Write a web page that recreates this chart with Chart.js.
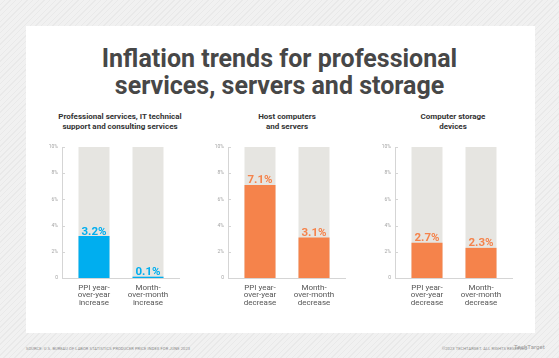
<!DOCTYPE html>
<html>
<head>
<meta charset="utf-8">
<script src="https://cdn.jsdelivr.net/npm/chart.js@4.4.0/dist/chart.umd.min.js"></script>
<style>
    html, body {
        margin: 0;
        padding: 0;
    }
    body {
        width: 559px;
        height: 358px;
        position: relative;
        overflow: hidden;
        background: #f1f1f1 repeating-linear-gradient(135deg, #f1f1f1 0px, #f1f1f1 3px, #e9e9e9 3px, #e9e9e9 4px);
        font-family: "Roboto", "Liberation Sans", sans-serif;
    }
    .card {
        position: absolute;
        left: 26px;
        top: 26px;
        width: 509px;
        height: 307px;
        background: #fff;
    }
    .title {
        position: absolute;
        left: 0;
        top: 45px;
        width: 559px;
        text-align: center;
        font-family: "Liberation Sans Narrow", "Roboto", sans-serif;
        font-weight: bold;
        font-size: 25px;
        line-height: 27px;
        color: #474747;
    }
    .sub {
        position: absolute;
        width: 170px;
        text-align: center;
        font-weight: bold;
        font-size: 8px;
        line-height: 10px;
        color: #333;
    }
    .panel {
        position: absolute;
        top: 135px;
        width: 143px;
        height: 175px;
    }
    .foot {
        position: absolute;
        top: 346px;
        font-size: 4px;
        color: #888;
        letter-spacing: 0.1px;
    }
</style>
</head>
<body>
<div class="card"></div>
<div class="title">Inflation trends for professional<br>services, servers and storage</div>

<div class="sub" style="left:35px; top:112px;">Professional services, IT technical<br>support and consulting services</div>
<div class="sub" style="left:202px; top:112px;">Host computers<br>and servers</div>
<div class="sub" style="left:368px; top:112px;">Computer storage<br>devices</div>

<div class="panel" style="left:40px;"><canvas id="chart-pro"></canvas></div>
<div class="panel" style="left:206px;"><canvas id="chart-host"></canvas></div>
<div class="panel" style="left:373px;"><canvas id="chart-storage"></canvas></div>

<div class="foot" style="left:26px;">SOURCE: U.S. BUREAU OF LABOR STATISTICS PRODUCER PRICE INDEX FOR JUNE 2023</div>
<div class="foot" style="left:442px;">©2023 TECHTARGET. ALL RIGHTS RESERVED</div>
<div class="foot" style="left:514px; top:343px; font-size:6px; color:#999;">TechTarget</div>

<script>
// Data
const proLabels = [['PPI year-', 'over-year', 'increase'], ['Month-', 'over-month', 'increase']];
const proValues = [3.2, 0.1];

const hostLabels = [['PPI year-', 'over-year', 'decrease'], ['Month-', 'over-month', 'decrease']];
const hostValues = [7.1, 3.1];

const storageLabels = [['PPI year-', 'over-year', 'decrease'], ['Month-', 'over-month', 'decrease']];
const storageValues = [2.7, 2.3];

const scaleMax = 10;
const tickValues = [0, 2, 4, 6, 8, 10];

const BLUE = '#00aeef';
const ORANGE = '#f5834b';
const TRACK = '#e6e5e1';
const AXIS = '#d5d5d5';

// Axis lines sit a few pixels outside the plot area, like the reference
const axisLines = {
    id: 'axisLines',
    beforeDatasetsDraw(chart) {
        const { ctx, chartArea } = chart;
        const y = chart.scales.y;
        const left = chartArea.left - 5;
        ctx.save();
        ctx.strokeStyle = AXIS;
        ctx.lineWidth = 1;
        ctx.beginPath();
        ctx.moveTo(left + 0.5, chartArea.top);
        ctx.lineTo(left + 0.5, chartArea.bottom + 0.5);
        ctx.lineTo(chartArea.right + 5, chartArea.bottom + 0.5);
        tickValues.forEach(v => {
            const py = Math.round(y.getPixelForValue(v)) + 0.5;
            ctx.moveTo(left, py);
            ctx.lineTo(left + 3, py);
        });
        ctx.stroke();
        ctx.restore();
    }
};

// Draws the value above each coloured bar
const valueLabels = {
    id: 'valueLabels',
    afterDatasetsDraw(chart) {
        const ctx = chart.ctx;
        const meta = chart.getDatasetMeta(1);
        const ds = chart.data.datasets[1];
        ctx.save();
        ctx.font = 'bold 11.5px "Roboto", sans-serif';
        ctx.textAlign = 'center';
        ctx.textBaseline = 'alphabetic';
        ctx.fillStyle = ds.backgroundColor;
        meta.data.forEach((bar, i) => {
            ctx.fillText(ds.data[i].toFixed(1) + '%', bar.x, bar.y - 1.5);
        });
        ctx.restore();
    }
};

function makeChart(id, labels, values, color) {
    const ctx = document.getElementById(id).getContext('2d');
    return new Chart(ctx, {
        type: 'bar',
        data: {
            labels: labels,
            datasets: [
                {
                    data: labels.map(() => scaleMax),
                    backgroundColor: TRACK,
                    grouped: false,
                    order: 2,
                    barPercentage: 0.574,
                    categoryPercentage: 1
                },
                {
                    data: values,
                    backgroundColor: color,
                    grouped: false,
                    order: 1,
                    barPercentage: 0.574,
                    categoryPercentage: 1
                }
            ]
        },
        options: {
            responsive: true,
            maintainAspectRatio: false,
            animation: false,
            events: [],
            layout: {
                padding: { top: 10, right: 8, left: 0, bottom: 0 }
            },
            plugins: {
                legend: { display: false },
                tooltip: { enabled: false }
            },
            scales: {
                x: {
                    grid: {
                        display: false,
                        drawTicks: false
                    },
                    border: { display: false },
                    ticks: {
                        color: '#555',
                        font: { size: 8, family: 'Roboto', lineHeight: 0.95 },
                        padding: 6,
                        maxRotation: 0
                    },
                    afterFit(scale) { scale.height = 32; }
                },
                y: {
                    min: 0,
                    max: scaleMax,
                    afterBuildTicks(scale) {
                        scale.ticks = tickValues.map(v => ({ value: v }));
                    },
                    grid: {
                        display: false,
                        drawTicks: false
                    },
                    border: { display: false },
                    ticks: {
                        color: '#a5a5a5',
                        font: { size: 5, family: 'Roboto' },
                        padding: 9,
                        callback: v => v === 0 ? '0' : v + '%'
                    },
                    afterFit(scale) { scale.width = 27; }
                }
            }
        },
        plugins: [axisLines, valueLabels]
    });
}

document.addEventListener('DOMContentLoaded', () => {
    makeChart('chart-pro', proLabels, proValues, BLUE);
    makeChart('chart-host', hostLabels, hostValues, ORANGE);
    makeChart('chart-storage', storageLabels, storageValues, ORANGE);
});
</script>
</body>
</html>
